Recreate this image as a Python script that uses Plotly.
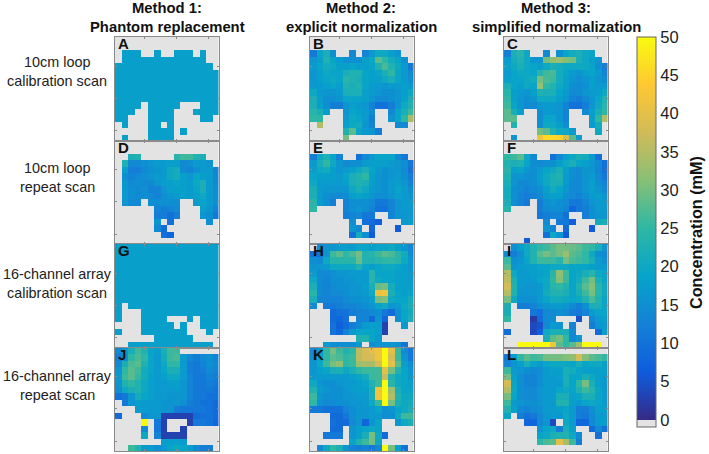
import plotly.graph_objects as go

_ = None
A = [
[_,_,_,_,_,_,_,_,_,_,_,_,_,_,_,_],
[_,_,_,_,_,_,_,_,_,_,_,_,_,_,_,_],
[_,18,18,18,_,_,18,_,_,18,18,18,_,18,_,_],
[_,18,18,18,18,18,18,18,18,18,18,18,18,18,_,_],
[18,18,18,18,18,18,18,18,18,18,18,18,18,18,18,_],
[18,18,18,18,18,18,18,18,18,18,18,18,18,18,18,18],
[18,18,18,18,18,18,18,18,18,18,18,18,18,18,18,18],
[18,18,18,18,18,18,18,18,18,18,18,18,18,18,18,18],
[18,18,18,18,18,18,18,18,18,18,18,18,18,18,18,18],
[18,18,18,18,18,18,18,18,18,18,18,18,18,18,18,18],
[18,18,18,18,_,18,18,18,18,18,_,_,_,18,18,18],
[18,18,18,_,_,18,18,18,18,_,_,_,18,18,18,18],
[18,18,_,_,_,18,18,18,18,_,_,_,_,18,18,_],
[_,18,_,_,_,18,18,_,18,_,_,_,_,_,_,_],
[_,_,_,_,_,18,18,18,18,_,18,_,_,_,_,_],
[_,18,_,_,_,18,18,18,18,_,_,_,_,_,_,_],
]
B = [
[_,_,_,_,_,_,_,_,_,_,_,_,_,_,_,_],
[_,_,_,_,_,_,_,_,_,_,_,_,_,_,_,_],
[11,19,22,15,_,_,14,_,13,17,20,20,18,16,_,_],
[16,18,23,19,17,15,15,15,18,20,28,25,21,19,15,_],
[17,19,21,20,18,18,19,18,18,19,23,27,23,20,17,11],
[16,18,20,19,19,22,23,23,19,18,19,22,25,19,17,14],
[16,18,19,20,19,24,23,22,19,18,18,20,22,19,17,15],
[17,17,18,19,18,23,22,23,19,17,17,16,17,17,18,17],
[20,17,16,16,17,22,22,22,18,17,16,15,15,16,18,20],
[22,17,15,15,16,19,19,19,18,16,14,14,15,16,18,22],
[22,18,15,12,12,16,18,17,16,13,10,10,12,16,20,23],
[24,22,18,_,_,16,19,18,17,14,_,_,14,19,22,26],
[25,25,_,_,_,17,20,19,17,12,_,_,16,19,25,34],
[_,35,_,_,_,18,20,21,16,13,_,_,_,14,14,_],
[_,_,_,_,_,23,28,19,17,16,12,_,_,_,_,_],
[_,_,_,_,_,30,_,_,_,_,_,_,_,_,_,_],
]
C = [
[_,_,_,_,_,_,_,_,_,_,_,_,_,_,_,_],
[_,_,_,_,_,_,_,_,_,_,_,_,_,_,_,_],
[12,22,24,20,_,_,14,_,15,19,21,22,20,19,_,_],
[17,21,23,20,16,16,30,32,33,31,30,22,20,18,16,_],
[18,20,22,20,19,18,20,22,21,20,20,20,20,19,15,12],
[17,19,20,20,19,24,26,27,21,19,17,16,18,19,17,13],
[18,19,19,20,21,30,27,26,21,18,16,15,16,18,16,15],
[22,19,18,20,19,33,25,23,20,18,15,14,15,18,17,17],
[24,18,17,16,18,23,22,22,19,17,14,14,16,17,18,20],
[25,18,16,15,16,20,20,20,18,16,13,12,14,16,19,23],
[26,19,16,14,14,16,17,17,16,13,10,10,12,16,20,24],
[28,22,18,_,_,15,17,17,16,13,_,_,14,18,22,25],
[28,28,_,_,_,15,19,19,16,13,_,_,_,18,25,35],
[_,23,_,_,_,15,20,20,18,15,_,_,_,17,21,_],
[_,_,_,_,_,30,28,23,20,20,17,_,_,_,20,_],
[_,16,_,_,_,42,46,46,45,38,28,17,_,_,_,_],
]
D = [
[_,_,_,_,_,_,_,_,_,_,_,_,_,_,_,_],
[_,_,_,_,_,_,_,_,_,_,_,_,_,_,_,_],
[_,_,22,23,_,_,_,_,_,24,26,26,23,22,_,_],
[_,23,14,14,15,16,17,17,18,18,14,15,17,17,16,_],
[_,18,12,12,14,15,16,17,20,21,14,13,15,17,17,13],
[_,15,13,14,15,16,17,17,20,21,18,16,19,18,17,14],
[_,16,14,15,14,14,16,18,18,19,18,17,20,22,17,14],
[_,17,15,14,15,13,13,16,18,18,18,17,19,22,17,15],
[_,17,15,14,15,14,13,15,16,17,18,17,18,20,17,15],
[_,16,14,14,_,15,15,15,15,15,_,_,17,19,17,15],
[_,_,_,_,_,_,13,12,13,14,_,_,_,18,16,13],
[_,_,_,_,_,_,12,12,10,12,_,_,_,16,15,11],
[_,_,_,_,_,_,16,_,10,_,_,_,_,_,15,_],
[_,_,_,_,_,_,14,9,_,_,_,_,_,_,_,_],
[_,_,_,_,_,_,_,10,8,_,_,_,_,_,_,_],
[_,_,_,_,_,_,_,_,_,_,_,_,_,_,_,_],
]
E = [
[_,_,_,_,_,_,_,_,_,_,_,_,_,_,_,_],
[_,_,_,_,_,_,_,_,_,_,_,_,_,_,_,_],
[12,20,23,19,13,_,_,10,14,17,19,19,19,14,11,_],
[17,22,25,20,16,14,15,15,17,18,18,18,17,16,15,11],
[18,20,21,18,16,17,18,20,22,19,17,15,16,16,14,10],
[19,18,18,18,17,19,22,23,25,18,16,15,16,17,15,12],
[20,17,17,17,17,18,22,23,22,18,16,15,17,18,16,13],
[22,17,16,16,16,16,20,22,20,17,16,15,17,19,17,15],
[22,17,15,14,14,15,18,19,18,16,15,15,16,18,17,16],
[24,17,15,12,_,13,15,15,15,14,11,11,13,16,17,17],
[25,_,_,_,_,13,15,16,15,13,10,10,13,16,17,17],
[_,_,_,_,_,12,13,14,11,11,_,_,13,16,16,17],
[_,_,_,_,_,_,15,_,10,9,7,_,_,_,17,18],
[_,_,_,_,_,_,16,14,_,8,_,_,_,6,_,_],
[_,_,_,_,_,_,10,21,15,6,_,_,_,_,_,_],
[_,_,_,_,_,_,_,_,_,_,_,_,_,_,_,_],
]
F = [
[_,_,_,_,_,_,_,_,_,_,_,_,_,_,_,_],
[_,_,_,_,_,_,_,_,_,_,_,_,_,_,_,_],
[25,26,28,20,14,_,_,10,14,18,20,22,21,17,10,_],
[23,22,23,19,15,14,15,15,18,20,22,19,18,16,14,10],
[24,18,19,16,15,17,19,20,22,18,15,14,16,16,13,10],
[23,16,16,15,15,18,20,22,23,17,15,14,16,17,14,11],
[22,16,14,14,15,17,20,22,22,17,14,14,16,18,15,13],
[21,15,14,13,14,15,18,21,19,16,14,14,16,18,16,14],
[21,15,13,12,13,14,17,18,18,15,14,13,15,17,18,16],
[22,15,13,11,_,12,15,16,15,14,11,11,13,16,17,17],
[24,_,_,_,_,12,14,15,15,13,8,11,12,15,17,17],
[_,_,_,_,_,11,12,13,13,10,_,_,12,15,16,16],
[_,_,_,_,_,_,14,_,11,11,7,_,_,_,21,22],
[_,_,_,_,_,_,16,13,_,9,_,_,_,6,_,_],
[_,_,_,_,_,_,10,20,16,6,_,_,_,_,_,_],
[_,_,_,6,_,_,_,_,_,_,_,_,_,_,_,_],
]
G = [
[18,18,18,18,18,18,18,18,18,18,18,18,18,18,18,18],
[18,18,18,18,18,18,18,18,18,18,18,18,18,18,18,18],
[18,18,18,18,18,18,18,18,18,18,18,18,18,18,18,18],
[18,18,18,18,18,18,18,18,18,18,18,18,18,18,18,18],
[18,18,18,18,18,18,18,18,18,18,18,18,18,18,18,18],
[18,18,18,18,18,18,18,18,18,18,18,18,18,18,18,18],
[18,18,18,18,18,18,18,18,18,18,18,18,18,18,18,18],
[18,18,18,18,18,18,18,18,18,18,18,18,18,18,18,18],
[18,18,18,18,18,18,18,18,18,18,18,18,18,18,18,18],
[18,_,18,18,18,18,18,18,18,18,18,18,18,18,18,18],
[18,_,_,_,18,18,18,18,18,18,18,18,18,18,18,18],
[18,_,_,_,18,18,18,18,_,_,_,18,_,18,18,18],
[_,_,_,_,18,18,18,18,18,_,18,_,_,18,18,18],
[18,_,_,_,18,18,18,18,18,18,18,_,_,_,18,_],
[_,_,_,_,_,_,18,18,18,18,18,18,_,_,_,_],
[_,_,18,18,18,18,18,18,18,18,18,18,18,18,18,_],
]
H = [
[_,14,16,16,17,18,17,19,19,18,19,19,20,18,16,14],
[10,10,16,26,28,25,27,30,23,24,26,28,27,24,21,15],
[15,14,20,24,24,24,24,29,23,23,24,25,25,24,20,16],
[16,16,17,20,20,20,20,23,19,18,19,20,20,19,18,16],
[17,14,14,15,16,16,17,17,17,24,19,19,19,18,18,17],
[20,14,13,15,15,16,16,17,17,24,20,19,19,18,18,17],
[22,14,13,14,15,15,16,16,18,22,29,30,21,18,18,18],
[24,14,13,14,14,15,16,16,17,20,41,42,22,19,18,19],
[22,13,13,13,13,14,15,15,16,18,30,31,20,19,19,21],
[14,_,11,11,12,13,13,14,15,16,19,20,16,17,20,22],
[_,_,_,9,10,10,12,13,13,14,15,11,9,15,19,21],
[_,_,_,9,8,10,_,13,13,9,16,8,_,15,19,22],
[_,_,_,10,7,9,12,14,17,18,18,3,_,_,17,_],
[_,_,_,10,8,13,17,19,19,19,18,3,_,_,_,_],
[_,_,_,_,_,_,_,23,23,19,17,_,_,_,_,_],
[_,_,17,15,15,15,15,17,_,15,16,16,16,15,10,_],
]
I = [
[_,15,18,20,23,25,26,28,30,30,29,28,26,25,22,16],
[14,12,15,20,23,28,30,28,30,33,28,27,25,20,15,14],
[26,15,16,19,23,26,26,26,24,30,27,26,25,22,17,15],
[28,16,17,18,18,19,19,20,20,20,19,19,19,18,17,17],
[35,20,17,17,18,18,19,24,32,26,19,20,22,24,20,19],
[36,22,17,17,17,19,20,25,31,26,19,21,26,30,22,19],
[38,23,17,16,16,17,20,24,25,23,19,23,28,31,24,20],
[35,23,16,16,16,17,21,23,23,22,19,22,26,30,24,20],
[30,20,15,15,15,17,19,21,21,20,19,20,23,27,23,19],
[22,_,12,12,13,15,16,17,17,16,14,12,15,22,22,19],
[22,_,_,_,11,10,14,14,15,14,12,11,13,17,19,19],
[25,_,_,_,2,9,14,15,_,_,_,5,_,14,17,18],
[_,_,_,_,4,5,14,17,16,_,13,_,_,12,16,17],
[9,_,_,_,4,7,20,22,22,22,14,_,_,_,9,18],
[_,_,_,_,_,_,22,28,30,25,14,16,_,_,_,_],
[_,_,50,50,50,50,50,42,28,25,28,33,50,50,50,_],
]
J = [
[14,16,22,26,23,19,18,22,26,26,_,_,_,_,_,_],
[12,15,25,27,25,19,17,21,26,27,17,14,12,14,15,13],
[14,22,27,28,23,19,17,20,25,25,17,12,11,13,15,14],
[16,25,28,26,21,19,17,19,22,22,17,12,11,12,14,13],
[17,26,28,25,21,18,17,18,20,20,17,13,11,11,13,12],
[16,23,25,23,20,18,17,17,18,18,16,13,11,11,12,11],
[15,20,22,23,20,18,17,17,17,17,16,13,11,11,11,10],
[10,11,16,21,19,18,17,17,16,16,16,13,11,11,10,10],
[_,11,16,18,17,17,17,16,16,16,15,12,11,10,10,9],
[_,_,_,17,17,17,17,16,16,12,11,11,11,11,10,9],
[9,_,_,_,14,16,16,3,3,3,3,3,9,10,10,9],
[_,_,_,_,50,_,11,3,_,_,_,3,11,11,10,8],
[_,_,_,_,14,_,11,3,_,_,3,_,_,_,_,_],
[_,_,_,_,20,_,13,3,3,3,3,_,_,_,_,_],
[_,_,_,_,_,_,_,18,18,18,17,_,_,_,_,_],
[_,_,26,23,17,17,15,17,19,20,19,18,14,12,12,_],
]
K = [
[14,17,25,30,26,23,25,36,38,40,42,50,40,26,14,11],
[15,19,25,28,27,25,26,36,38,38,42,50,38,26,16,11],
[16,20,26,30,32,25,26,33,34,34,38,50,40,28,18,15],
[16,18,19,22,22,20,22,25,26,26,26,40,30,23,19,16],
[17,17,17,17,17,17,18,19,21,26,26,37,23,20,19,17],
[20,16,15,15,16,17,17,18,19,23,26,50,24,20,19,18],
[23,17,16,15,15,16,17,18,18,22,42,50,33,22,19,19],
[26,16,15,15,15,16,16,17,17,22,42,50,35,23,20,20],
[25,15,14,14,15,15,16,16,17,20,26,50,30,22,20,21],
[11,11,10,10,10,13,15,16,16,17,19,15,16,19,20,22],
[_,_,_,9,9,11,15,16,16,17,17,15,15,20,26,26],
[_,_,_,10,9,9,14,16,8,16,19,_,_,16,20,22],
[_,_,_,9,9,_,16,18,19,20,19,_,_,_,_,_],
[_,_,11,11,11,_,16,18,22,30,20,9,_,_,_,_],
[_,_,_,_,_,_,19,23,26,30,20,_,_,_,_,_],
[_,14,20,25,22,16,13,12,13,11,14,50,30,18,10,_],
]
L = [
[_,_,_,_,_,_,_,_,_,_,_,_,_,_,_,_],
[11,18,25,28,26,27,30,30,30,31,32,38,31,28,27,25],
[13,16,18,22,19,17,19,20,20,20,19,22,19,20,20,18],
[26,17,16,15,14,15,17,18,18,22,21,19,18,18,18,18],
[30,18,15,13,13,15,17,17,18,22,19,19,22,20,18,17],
[38,19,15,13,13,15,17,17,17,22,19,25,30,22,18,17],
[35,20,15,14,14,16,17,17,19,20,19,23,26,24,19,17],
[30,19,15,14,14,16,17,17,22,22,18,19,22,22,19,17],
[26,17,16,15,15,16,17,17,23,23,18,17,19,20,19,17],
[23,18,14,13,14,15,17,17,18,19,17,12,12,15,18,18],
[19,_,12,10,11,14,16,17,16,20,17,12,11,14,17,17],
[_,_,_,8,8,14,16,4,_,20,17,8,8,14,17,18],
[_,_,_,_,_,16,19,20,12,22,18,_,_,9,14,10],
[_,_,_,_,_,19,20,22,23,23,20,14,_,_,10,_],
[_,_,_,_,_,25,27,28,40,34,26,12,_,_,_,_],
[_,_,_,_,_,_,_,_,_,_,_,_,_,_,_,_],
]

panels = [A, B, C, D, E, F, G, H, I, J, K, L]
panel_letters = list("ABCDEFGHIJKL")
method_titles = [["Method 1:", "Phantom replacement"],
                 ["Method 2:", "explicit normalization"],
                 ["Method 3:", "simplified normalization"]]
row_labels = [["10cm loop", "calibration scan"], ["10cm loop", "repeat scan"],
              ["16-channel array", "calibration scan"], ["16-channel array", "repeat scan"]]
cbar_ticks = [0, 5, 10, 15, 20, 25, 30, 35, 40, 45, 50]
cbar_title = "Concentration (mM)"

W, H_PX = 709, 454
col_left = [115, 310, 504]
row_top = [37, 140.5, 244, 347.5]
pw, ph = 103.5, 103.5
FONT = "Liberation Sans"
GRAY = "#e3e3e3"
AXC = "#8a8a8a"

parula = ["#352a87", "#0f5cdd", "#1481d6", "#06a4ca", "#2eb7a4",
          "#87bf77", "#d1bb59", "#fec832", "#f9fb0e"]
cmin, cmax = -0.95, 50
zero = (0 - cmin) / (cmax - cmin)
scale = [[0, GRAY], [zero * 0.999, GRAY]]
for i, c in enumerate(parula):
    scale.append([zero + (1 - zero) * i / 8, c])

fig = go.Figure()
ann = []
def label(x, y, text, size, color="#111", **kw):
    ann.append(dict(x=x / W, y=1 - y / H_PX, xref="paper", yref="paper", showarrow=False,
                    text=text, font=dict(family=FONT, size=size, color=color),
                    xanchor=kw.pop("xanchor", "center"), yanchor="middle", **kw))

for k, z in enumerate(panels):
    r, c = k // 3, k % 3
    ax = "" if k == 0 else str(k + 1)
    fig.add_trace(go.Heatmap(z=z, x=list(range(1, 17)), y=list(range(1, 17)),
                             coloraxis="coloraxis", xaxis="x" + ax, yaxis="y" + ax,
                             xgap=0, ygap=0, hoverongaps=False))
    common = dict(showgrid=False, zeroline=False, showticklabels=False,
                  ticks="inside", ticklen=2, tickcolor=AXC, tickwidth=1,
                  tickvals=[5, 10, 15], showline=True, linecolor=AXC, linewidth=1,
                  mirror="ticks")
    x0 = col_left[c]
    y0 = row_top[r]
    fig.layout["xaxis" + ax] = dict(common, domain=[x0 / W, (x0 + pw) / W],
                                    range=[0.5, 16.5], anchor="y" + ax)
    fig.layout["yaxis" + ax] = dict(common, domain=[1 - (y0 + ph) / H_PX, 1 - y0 / H_PX],
                                    range=[16.5, 0.5], anchor="x" + ax)
    label(x0 + 1, y0 + 7, "<b>%s</b>" % panel_letters[k], 15, xanchor="left")

for x, t in zip([167, 361, 556], method_titles):
    label(x, 8, "<b>%s</b>" % t[0], 14.8)
    label(x, 27, "<b>%s</b>" % t[1], 14.8)
for y, t in zip([62, 168, 274, 376], row_labels):
    label(57, y, t[0], 14.4, "#222")
    label(57, y + 18.5, t[1], 14.4, "#222")
label(696, 233, "<b>%s</b>" % cbar_title, 16.2, textangle=-90)

fig.update_layout(
    width=W, height=H_PX, margin=dict(l=0, r=0, t=0, b=0),
    paper_bgcolor="white", plot_bgcolor=GRAY, showlegend=False, annotations=ann,
    coloraxis=dict(colorscale=scale, cmin=cmin, cmax=cmax,
                   colorbar=dict(x=637 / W, xanchor="left", y=1 - 427 / H_PX, yanchor="bottom",
                                 len=390, lenmode="pixels", thickness=19, thicknessmode="pixels",
                                 xpad=0, ypad=0, tickvals=cbar_ticks, ticks="", outlinecolor="#666",
                                 outlinewidth=1,
                                 tickfont=dict(family=FONT, size=16.5, color="#222"))),
)
fig.write_html("out.html", config={"displayModeBar": False},
               post_script="document.body.style.margin='0';document.body.style.overflow='hidden';")
